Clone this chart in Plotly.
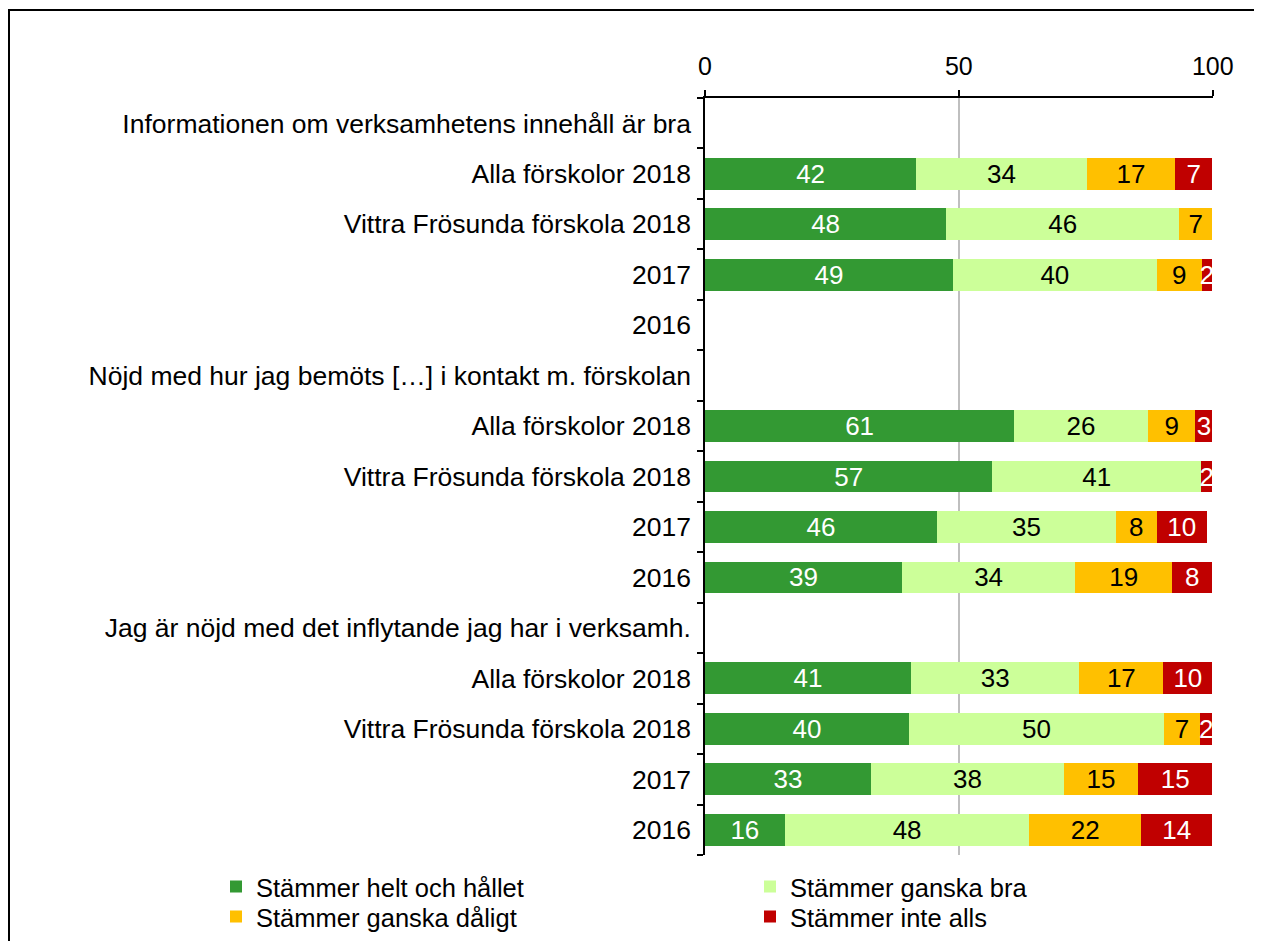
import plotly.graph_objects as go

categories = [
    "Informationen om verksamhetens innehåll är bra",
    "Alla förskolor 2018",
    "Vittra Frösunda förskola 2018",
    "2017",
    "2016",
    "Nöjd med hur jag bemöts […] i kontakt m. förskolan",
    "Alla förskolor 2018",
    "Vittra Frösunda förskola 2018",
    "2017",
    "2016",
    "Jag är nöjd med det inflytande jag har i verksamh.",
    "Alla förskolor 2018",
    "Vittra Frösunda förskola 2018",
    "2017",
    "2016",
]

helt = [None, 41.6, 47.5, 48.8, None, None, 60.9, 56.6, 45.7, 38.8, None, 40.6, 40.2, 32.7, 15.7]
bra = [None, 33.6, 45.9, 40.2, None, None, 26.3, 41.1, 35.2, 34.1, None, 33.1, 50.2, 38.0, 48.2]
daligt = [None, 17.4, 6.5, 8.8, None, None, 9.4, None, 8.1, 19.1, None, 16.6, 7.1, 14.6, 22.0]
inte = [None, 7.3, None, 2.1, None, None, 3.3, 2.2, 9.8, 7.9, None, 9.6, 2.4, 14.6, 14.0]

series_names = ["Stämmer helt och hållet", "Stämmer ganska bra", "Stämmer ganska dåligt", "Stämmer inte alls"]
x_ticks = [0, 50, 100]

colors = ["#339933", "#CCFF99", "#FFC000", "#C00000"]
text_colors = ["white", "black", "black", "white"]
legend_ids = ["legend", "legend2", "legend3", "legend4"]

ypos = list(range(len(categories)))
FONT = "Liberation Sans, Arial, sans-serif"
FS = 26.5

fig = go.Figure()
for name, vals, col, tcol, lg in zip(series_names, [helt, bra, daligt, inte], colors, text_colors, legend_ids):
    fig.add_trace(go.Bar(
        y=ypos, x=vals, name=name, orientation="h",
        marker=dict(color=col, line=dict(width=0)),
        texttemplate="%{x:.0f}", textposition="inside", insidetextanchor="middle",
        textangle=0, textfont=dict(color=tcol, size=26, family=FONT),
        legend=lg, showlegend=True, cliponaxis=False,
    ))

# page has an 8px body margin: page pixel p -> figure pixel p - 8
OFF = 8
W, H = 1262 - OFF, 941 - OFF
L, T = 705 - OFF, 98 - OFF
R = W - (1213 - OFF)
B = H - (855 - OFF)
pw, ph = W - L - R, H - T - B

def px_x(p):
    return (p - OFF - L) / pw

def px_y(p):
    return (H - B - (p - OFF)) / ph

def legend_at(xp, yp):
    return dict(x=px_x(xp), y=px_y(yp), xanchor="left", yanchor="middle",
                orientation="v", font=dict(size=25.5, family=FONT, color="black"),
                bgcolor="rgba(0,0,0,0)", borderwidth=0, visible=True)

fig.update_layout(
    width=W, height=H, showlegend=True,
    margin=dict(l=L, r=R, t=T, b=B, autoexpand=False),
    paper_bgcolor="white", plot_bgcolor="white",
    barmode="stack", bargap=0.37,
    font=dict(family=FONT, size=FS, color="black"),
    uniformtext=dict(minsize=26, mode="show"),
    xaxis=dict(
        side="top", range=[0, 100.05], tickvals=x_ticks, ticks="outside", ticklen=6,
        tickcolor="black", tickwidth=1.5, showline=True, linecolor="black", linewidth=1.5,
        showgrid=True, gridcolor="#BFBFBF", gridwidth=2, zeroline=False,
        ticklabelstandoff=5,
        tickfont=dict(size=25, family=FONT, color="black"),
    ),
    yaxis=dict(
        range=[len(categories) - 0.5, -0.5], tickvals=ypos, ticktext=categories,
        ticks="", showline=True, linecolor="black", linewidth=1.5, showgrid=False,
        zeroline=False, ticklabelstandoff=7,
        tickfont=dict(size=FS, family=FONT, color="black"),
        minor=dict(tickvals=[i - 0.5 for i in range(len(categories) + 1)], ticks="outside",
                   ticklen=6, tickcolor="black", tickwidth=1.5, showgrid=False),
    ),
    legend=legend_at(216, 887),
    legend2=legend_at(750, 887),
    legend3=legend_at(216, 917),
    legend4=legend_at(750, 917),
    shapes=[dict(type="rect", xref="paper", yref="paper",
                 x0=px_x(9), x1=px_x(1280), y0=px_y(980), y1=px_y(10),
                 line=dict(color="black", width=2), fillcolor="rgba(0,0,0,0)", layer="below")],
)

fig.write_html("out.html")
